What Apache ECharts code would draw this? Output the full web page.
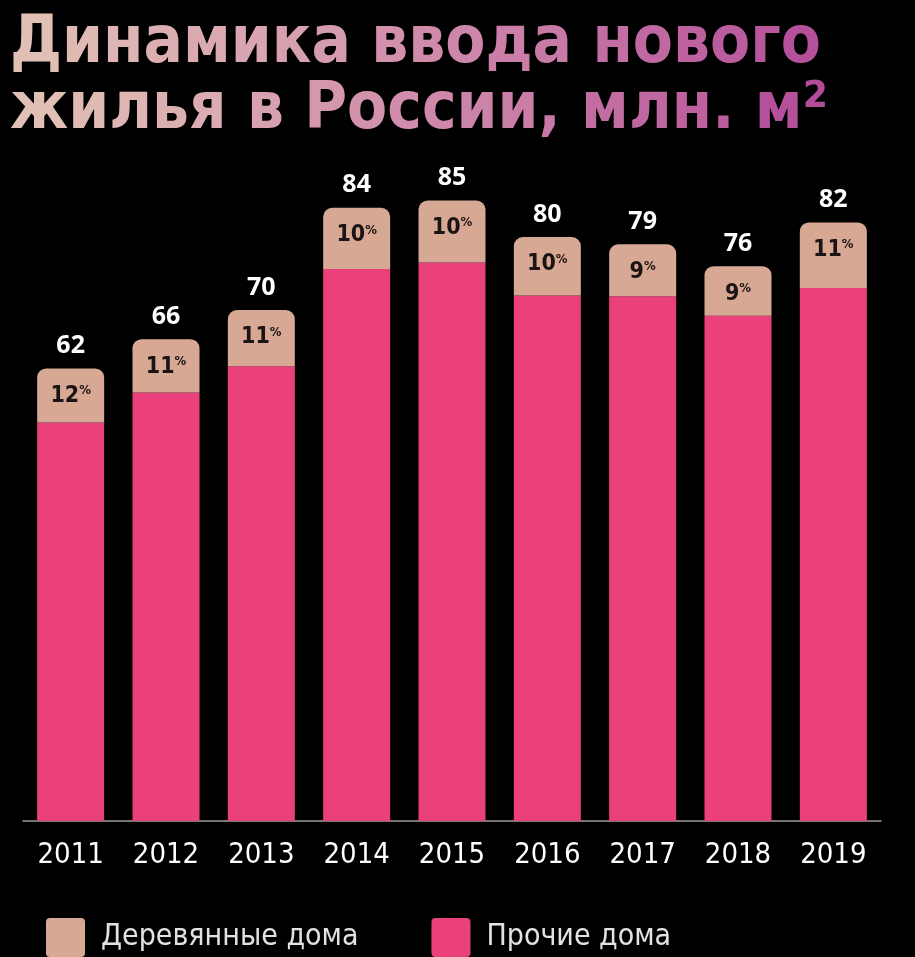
<!DOCTYPE html>
<html>
<head>
<meta charset="utf-8">
<script src="https://cdn.jsdelivr.net/npm/echarts@6/dist/echarts.min.js"></script>
<style>
html,body{margin:0;padding:0;background:#000;}
#chart{width:915px;height:957px;}
</style>
</head>
<body>
<div id="chart"></div>
<script>
const years = ['2011','2012','2013','2014','2015','2016','2017','2018','2019'];
const totals = [62, 66, 70, 84, 85, 80, 79, 76, 82];
const woodShareLabels = ['12', '11', '11', '10', '10', '10', '9', '9', '11'];
const woodHouses = [7.4, 7.3, 7.7, 8.4, 8.5, 8.0, 7.1, 6.8, 9.0];
const otherHouses = [54.6, 58.7, 62.3, 75.6, 76.5, 72.0, 71.9, 69.2, 73.0];
const titleLines = ['Динамика ввода нового', 'жилья в России, млн. м²'];
const seriesNames = ['Деревянные дома', 'Прочие дома'];

const NARROW = "'Liberation Sans Narrow', 'DejaVu Sans Condensed', sans-serif";
const BEIGE = '#d7a994';
const PINK = '#ea417d';
const TITLE_FONT_SIZE = 65;

function lerpColor(a, b, t) {
  const pa = [1,3,5].map(i => parseInt(a.substr(i,2),16));
  const pb = [1,3,5].map(i => parseInt(b.substr(i,2),16));
  return 'rgb(' + pa.map((v,i) => Math.round(v + (pb[i]-v)*t)).join(',') + ')';
}
function gradientStops(t) {
  if (t < 0.5) return lerpColor('#e0bfb4', '#d08bab', t/0.5);
  return lerpColor('#d08bab', '#b5519a', (t-0.5)/0.5);
}
function buildRichTitle(line, key, maxLen) {
  const rich = {};
  let text = '';
  const chars = Array.from(line);
  chars.forEach((ch, i) => {
    const name = key + i;
    rich[name] = {fill: gradientStops(i / (maxLen - 1)), fontSize: TITLE_FONT_SIZE, fontWeight: 'bold', fontFamily: NARROW};
    text += '{' + name + '|' + ch + '}';
  });
  return {text, rich};
}
const t1 = buildRichTitle(titleLines[0], 'a', 21);
const t2 = buildRichTitle(titleLines[1], 'b', 22);

const chart = echarts.init(document.getElementById('chart'), null, {renderer: 'canvas'});

chart.setOption({
  backgroundColor: '#000',
  animation: false,
  graphic: [
    {type: 'text', left: 10, top: 13, style: {text: t1.text, rich: t1.rich, fill: '#e0bfb4', fontSize: TITLE_FONT_SIZE, fontWeight: 'bold', fontFamily: NARROW}},
    {type: 'text', left: 10, top: 79, style: {text: t2.text, rich: t2.rich, fill: '#e0bfb4', fontSize: TITLE_FONT_SIZE, fontWeight: 'bold', fontFamily: NARROW}}
  ],
  legend: {
    data: [seriesNames[0], seriesNames[1]],
    left: 41, top: 913,
    itemWidth: 39, itemHeight: 39, itemGap: 73,
    icon: 'path://M4,0 H35 A4,4 0 0 1 39,4 V35 A4,4 0 0 1 35,39 H4 A4,4 0 0 1 0,35 V4 A4,4 0 0 1 4,0 Z',
    textStyle: {color: '#e2e2e2', fontSize: 30, fontFamily: NARROW, padding: [0, 0, 0, 11]}
  },
  grid: {left: 23, right: 34, top: 164, bottom: 136},
  xAxis: {
    type: 'category', data: years,
    axisLine: {lineStyle: {color: '#9a9a9a', width: 1.5}},
    axisTick: {show: false},
    axisLabel: {color: '#ffffff', fontSize: 29, fontFamily: NARROW, margin: 20}
  },
  yAxis: {type: 'value', min: 0, max: 90, show: false, splitLine: {show: false}},
  series: [
    {
      name: seriesNames[1], type: 'bar', stack: 'total', data: otherHouses,
      barWidth: 67, itemStyle: {color: PINK}
    },
    {
      name: seriesNames[0], type: 'bar', stack: 'total', data: woodHouses,
      barWidth: 67, itemStyle: {color: BEIGE, borderRadius: [9, 9, 0, 0]},
      label: {
        show: true, position: 'insideTop', distance: 16,
        formatter: p => '{n|' + woodShareLabels[p.dataIndex] + '}{p|%}',
        rich: {
          n: {fontSize: 23, fontWeight: 'bold', color: '#1c1414', fontFamily: NARROW},
          p: {fontSize: 13, fontWeight: 'bold', color: '#1c1414', fontFamily: NARROW, verticalAlign: 'top', padding: [0, 0, 6, 0]}
        }
      }
    },
    {
      name: 'totals', type: 'bar', stack: 'total', data: years.map(() => 0),
      barWidth: 67, itemStyle: {color: 'transparent'}, legendHoverLink: false,
      label: {
        show: true, position: 'top', distance: 10,
        formatter: p => String(totals[p.dataIndex]),
        color: '#ffffff', fontSize: 25, fontWeight: 'bold', fontFamily: "'Open Sans', sans-serif"
      }
    }
  ]
});
</script>
</body>
</html>
